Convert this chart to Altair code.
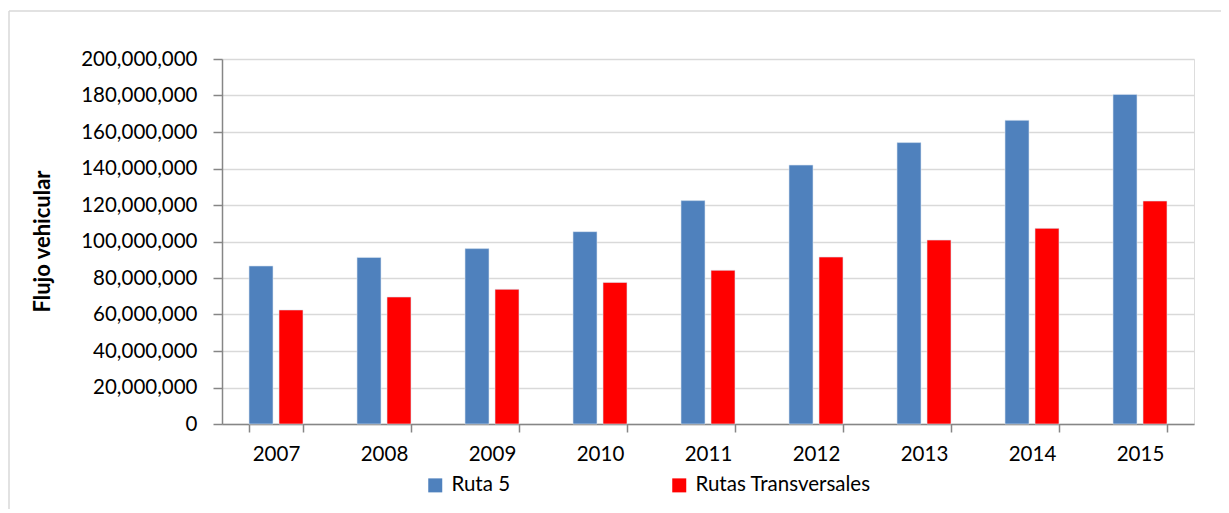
import altair as alt
import pandas as pd

years = ["2007", "2008", "2009", "2010", "2011", "2012", "2013", "2014", "2015"]
ruta5 = [86.6e6, 91.3e6, 96.1e6, 105.4e6, 122.4e6, 141.9e6, 154.2e6, 166.4e6, 180.6e6]
transversales = [62.5e6, 69.6e6, 73.8e6, 77.6e6, 84.2e6, 91.5e6, 100.8e6, 107.2e6, 122.2e6]
series = ["Ruta 5", "Rutas Transversales"]
colors = ["#4F81BD", "#FF0000"]

rows = []
for i, y in enumerate(years):
    rows.append({"year": y, "serie": series[0], "value": ruta5[i]})
    rows.append({"year": y, "serie": series[1], "value": transversales[i]})
df = pd.DataFrame(rows)

FONT = "Lato"
FS = 20.5

bars = alt.Chart(df).mark_bar(stroke="#DCE6F2", strokeWidth=0.6).encode(
    x=alt.X("year:N", sort=years, title=None,
            scale=alt.Scale(paddingInner=0.5, paddingOuter=0.25),
            axis=alt.Axis(labelAngle=0, labelFont=FONT, labelFontSize=FS, labelColor="#000000",
                          domainColor="#868686", domainWidth=1.5, tickColor="#868686",
                          tickWidth=1.5, tickSize=8, tickBand="extent", labelPadding=12,
                          grid=False)),
    xOffset=alt.XOffset("serie:N", sort=series,
                        scale=alt.Scale(paddingInner=0.2, paddingOuter=0)),
    y=alt.Y("value:Q", title="Flujo vehicular",
            scale=alt.Scale(domain=[0, 200000000], nice=False),
            axis=alt.Axis(values=list(range(0, 200000001, 20000000)), format=",d",
                          labelFont=FONT, labelFontSize=FS, labelColor="#000000",
                          labelPadding=16, tickSize=9, tickColor="#868686", tickWidth=1.5,
                          domainColor="#868686", domainWidth=1.5,
                          gridColor="#D9D9D9", gridWidth=1.5,
                          titleFont=FONT, titleFontSize=22, titleFontWeight="bold",
                          titleColor="#000000", titleX=-180, titleY=182,
                          titleBaseline="middle", titleAlign="center")),
    color=alt.Color("serie:N", sort=series,
                    scale=alt.Scale(domain=series, range=colors),
                    legend=alt.Legend(title=None, orient="none", direction="horizontal",
                                      legendX=203, legendY=416, padding=0,
                                      symbolType="square", symbolSize=196,
                                      symbolStrokeWidth=0, labelFont=FONT,
                                      labelFontSize=FS, labelColor="#000000",
                                      labelLimit=400, labelOffset=6, columnPadding=158)),
)

border_top = alt.Chart(alt.Data(values=[{}])).mark_rule(color="#D9D9D9", strokeWidth=1.5).encode(
    x=alt.value(-213), x2=alt.value(1010), y=alt.value(-48))
border_left = alt.Chart(alt.Data(values=[{}])).mark_rule(color="#D9D9D9", strokeWidth=1.5).encode(
    x=alt.value(-213), y=alt.value(-48), y2=alt.value(470))

chart = alt.layer(border_top, border_left, bars).properties(
    width=972, height=365,
    padding={"left": 214, "top": 51, "right": 27, "bottom": 85},
    autosize="none",
).configure_view(stroke=None).configure(background="#FFFFFF")

chart.save("out.html", embed_options={"renderer": "svg", "actions": False})
